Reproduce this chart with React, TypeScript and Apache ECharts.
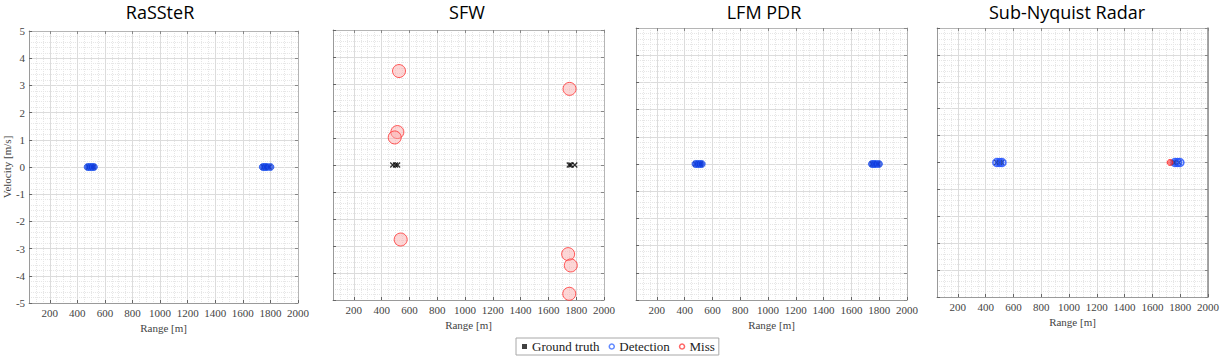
import React, { useEffect, useRef } from "react";
import * as echarts from "echarts";

// ---- data ----
const panelTitles = ["RaSSteR", "SFW", "LFM PDR", "Sub-Nyquist Radar"];
const xTickValues = [200, 400, 600, 800, 1000, 1200, 1400, 1600, 1800, 2000];
const legendNames = ["Ground truth", "Detection", "Miss"];

const groundTruth = [
  [480, 0], [500, 0], [515, 0],
  [1750, 0], [1762, 0], [1790, 0],
];

const rassterDetections = [
  [475, 0], [490, 0], [505, 0], [520, 0],
  [1745, 0], [1760, 0], [1775, 0], [1800, 0],
];

const sfwMisses = [
  [525, 3.48], [1752, 2.82], [513, 1.22], [494, 1.02],
  [537, -2.76], [1742, -3.3], [1761, -3.72], [1750, -4.77],
];

const lfmDetections = [
  [478, 0], [493, 0], [508, 0], [523, 0],
  [1748, 0], [1763, 0], [1778, 0], [1798, 0],
];

const subNyquistDetections = [
  [480, 0], [500, 0], [518, 0],
  [1762, 0], [1780, 0], [1798, 0],
];
const subNyquistMisses = [[1727, 0]];

// ---- layout ----
const grids = [
  { left: 27, top: 31, width: 271, height: 272 },
  { left: 333, top: 30, width: 271, height: 270 },
  { left: 636, top: 28, width: 271, height: 272 },
  { left: 937, top: 28, width: 272, height: 269 },
];
const titleCenters = [160, 467, 764, 1067];

const SERIF = "'Liberation Serif', 'DejaVu Serif', serif";
const XMARK = "path://M0,0L10,10M10,0L0,10";

export default function App() {
  const ref = useRef<HTMLDivElement>(null);

  useEffect(() => {
    if (!ref.current) return;
    const chart = echarts.init(ref.current, undefined, { renderer: "svg" });

    const xAxis: any[] = [];
    const yAxis: any[] = [];
    const series: any[] = [];
    const mainX: number[] = [];
    const mainY: number[] = [];

    grids.forEach((g, i) => {
      // minor dotted grid (x)
      xAxis.push({
        gridIndex: i, type: "value", position: "bottom", min: 50, max: 2000, interval: 50,
        axisLine: { show: false }, axisTick: { show: false }, axisLabel: { show: false },
        splitLine: { show: true, lineStyle: { color: "#e6e6e6", type: "dotted", width: 1 } },
      });
      // main bottom axis
      mainX.push(xAxis.length);
      xAxis.push({
        gridIndex: i, type: "value", position: "bottom", min: 50, max: 2000,
        axisLine: { show: true, onZero: false, lineStyle: { color: "#9a9a9a", width: 1 } },
        axisTick: { show: true, inside: true, length: 3, customValues: xTickValues, lineStyle: { color: "#666" } },
        axisLabel: {
          show: true, customValues: xTickValues, margin: 4,
          formatter: (v: number) => String(v),
          fontFamily: SERIF, fontSize: 11, color: "#444",
        },
        splitLine: { show: true, lineStyle: { color: "#dcdcdc", width: 1 } },
        name: "Range [m]", nameLocation: "middle", nameGap: 19,
        nameTextStyle: { fontFamily: SERIF, fontSize: 11, color: "#444" },
      });
      // top box axis
      xAxis.push({
        gridIndex: i, type: "value", position: "top", min: 50, max: 2000,
        axisLine: { show: true, onZero: false, lineStyle: { color: "#b5b5b5", width: 1 } },
        axisTick: { show: true, inside: true, length: 3, customValues: xTickValues, lineStyle: { color: "#888" } },
        axisLabel: { show: false }, splitLine: { show: false },
      });

      mainY.push(yAxis.length);
      yAxis.push({
        gridIndex: i, type: "value", position: "left", min: -5, max: 5, interval: 1,
        axisLine: { show: true, onZero: false, lineStyle: { color: "#9a9a9a", width: 1 } },
        axisTick: { show: true, inside: true, length: 3, lineStyle: { color: "#666" } },
        axisLabel: {
          show: i === 0, margin: 4, fontFamily: SERIF, fontSize: 11, color: "#444",
        },
        splitLine: { show: true, lineStyle: { color: "#dcdcdc", width: 1 } },
        minorTick: { show: false, splitNumber: 5 },
        minorSplitLine: { show: true, lineStyle: { color: "#e6e6e6", type: "dotted", width: 1 } },
        name: i === 0 ? "Velocity [m/s]" : "",
        nameLocation: "middle", nameGap: 13, nameRotate: 90,
        nameTextStyle: { fontFamily: SERIF, fontSize: 11, color: "#444" },
      });
      yAxis.push({
        gridIndex: i, type: "value", position: "right", min: -5, max: 5, interval: 1,
        axisLine: { show: true, onZero: false, lineStyle: { color: i === 3 ? "#8a8a8a" : "#b5b5b5", width: i === 3 ? 1.5 : 1 } },
        axisTick: { show: true, inside: true, length: 3, lineStyle: { color: "#888" } },
        axisLabel: { show: false }, splitLine: { show: false },
      });
    });

    const gtSeries = (i: number) => ({
      name: "Ground truth", type: "scatter", xAxisIndex: mainX[i], yAxisIndex: mainY[i],
      data: groundTruth, symbol: XMARK, symbolSize: 5, z: 3,
      itemStyle: { color: "#000", borderColor: "#000", borderWidth: 1.3 },
    });
    const filledDet = (i: number, data: number[][]) => ({
      name: "Detection", type: "scatter", xAxisIndex: mainX[i], yAxisIndex: mainY[i],
      data, symbol: "circle", symbolSize: 7, z: 4,
      itemStyle: { color: "rgba(15,60,225,0.88)", borderColor: "#1f55f0", borderWidth: 1 },
    });

    series.push(gtSeries(0), filledDet(0, rassterDetections));
    series.push(gtSeries(1), {
      name: "Miss", type: "scatter", xAxisIndex: mainX[1], yAxisIndex: mainY[1],
      data: sfwMisses, symbol: "circle", symbolSize: 13, z: 5,
      itemStyle: { color: "rgba(250,170,170,0.6)", borderColor: "#ff3030", borderWidth: 1 },
    });
    series.push(gtSeries(2), filledDet(2, lfmDetections));
    series.push(gtSeries(3), {
      name: "Detection", type: "scatter", xAxisIndex: mainX[3], yAxisIndex: mainY[3],
      data: subNyquistDetections, symbol: "circle", symbolSize: 8, z: 4,
      itemStyle: { color: "rgba(40,90,255,0.35)", borderColor: "#2050ff", borderWidth: 1.5 },
    }, {
      name: "Miss", type: "scatter", xAxisIndex: mainX[3], yAxisIndex: mainY[3],
      data: subNyquistMisses, symbol: "circle", symbolSize: 6, z: 5,
      itemStyle: { color: "rgba(255,60,60,0.8)", borderColor: "#ff2020", borderWidth: 1 },
    });

    chart.setOption({
      animation: false,
      backgroundColor: "#fff",
      title: panelTitles.map((t, i) => ({
        text: t, left: titleCenters[i], top: 2, textAlign: "center", padding: 0,
        textStyle: { fontFamily: "'Open Sans', sans-serif", fontSize: 18, lineHeight: 20, fontWeight: "normal", color: "#000" },
      })),
      grid: grids.map((g) => ({ ...g, containLabel: false })),
      xAxis, yAxis, series,
      legend: {
        left: 516, top: 338, orient: "horizontal",
        backgroundColor: "#fff", borderColor: "#a8a8a8", borderWidth: 1,
        padding: [2, 4, 2, 6], itemWidth: 5, itemHeight: 5, itemGap: 9,
        selectedMode: false,
        textStyle: { fontFamily: SERIF, fontSize: 13, color: "#222", padding: [0, 0, 0, 0] },
        data: [
          { name: legendNames[0], icon: "rect", itemStyle: { color: "#111", borderWidth: 0 } },
          { name: legendNames[1], icon: "circle", itemStyle: { color: "#fff", borderColor: "#3a6cff", borderWidth: 1.5 } },
          { name: legendNames[2], icon: "circle", itemStyle: { color: "#fff", borderColor: "#ff4040", borderWidth: 1.5 } },
        ],
      },
    });

    return () => chart.dispose();
  }, []);

  return (
    <div
      ref={ref}
      style={{ position: "absolute", left: 0, top: 0, width: 1222, height: 361 }}
    />
  );
}
